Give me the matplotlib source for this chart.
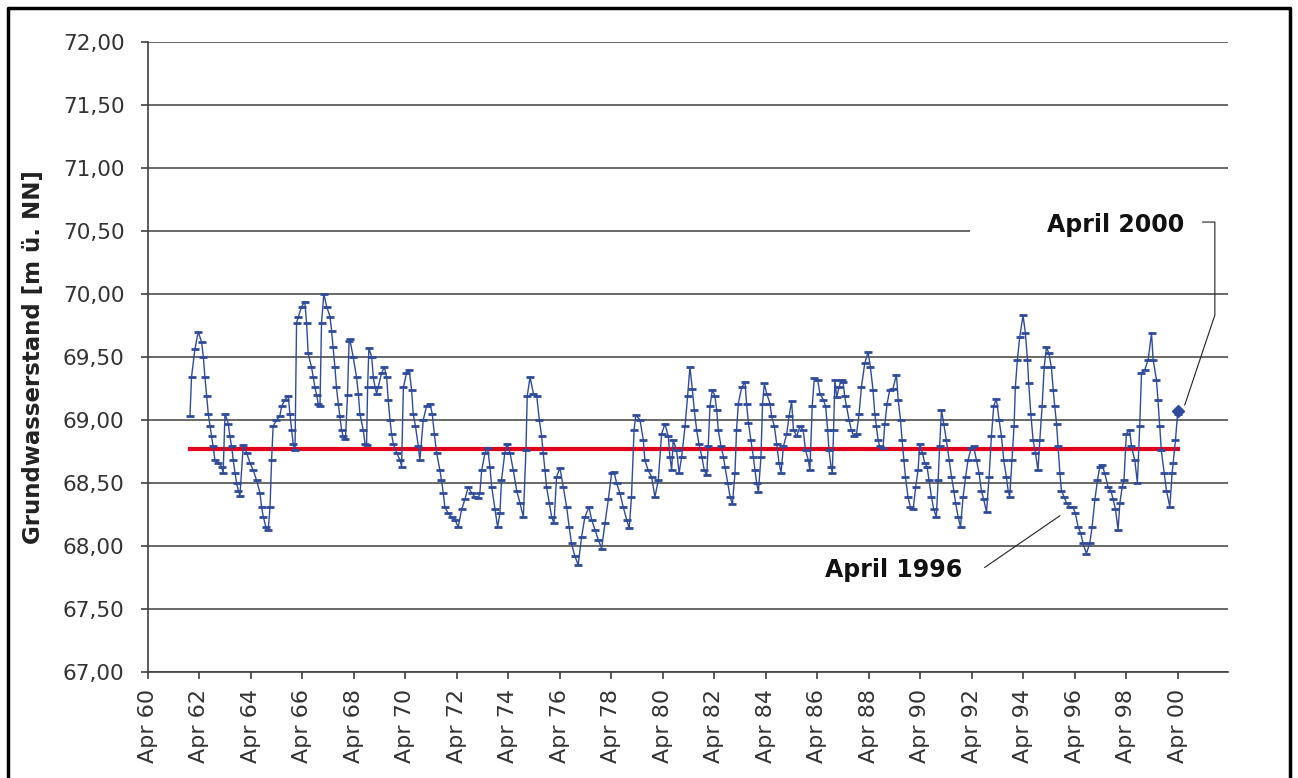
import numpy as np
import matplotlib.pyplot as plt
import matplotlib.lines as mlines
from matplotlib.patches import Rectangle

# groundwater level readings (decimal year, m above NN)
t_61_67 = [1961.88, 1961.94, 1962.07, 1962.20, 1962.33, 1962.40, 1962.46, 1962.53, 1962.59, 1962.66,
           1962.72, 1962.78, 1962.85, 1962.98, 1963.11, 1963.17, 1963.24, 1963.37, 1963.43, 1963.50,
           1963.56, 1963.63, 1963.69, 1963.76, 1963.82, 1963.95, 1964.08, 1964.21, 1964.34, 1964.47,
           1964.60, 1964.66, 1964.73, 1964.83, 1964.92, 1964.99, 1965.05, 1965.11, 1965.24, 1965.37,
           1965.44, 1965.57, 1965.70, 1965.76, 1965.83, 1965.89, 1965.96, 1966.02, 1966.09, 1966.22,
           1966.34, 1966.41, 1966.47, 1966.60, 1966.67, 1966.73, 1966.80, 1966.86, 1966.93, 1966.99,
           1967.08, 1967.19, 1967.32, 1967.38, 1967.44, 1967.51, 1967.57, 1967.64, 1967.70, 1967.77,
           1967.83, 1967.92]
lvl_61_67 = [69.03, 69.34, 69.56, 69.70, 69.62, 69.50, 69.34, 69.19, 69.05, 68.95,
             68.87, 68.79, 68.68, 68.66, 68.63, 68.58, 69.05, 68.97, 68.87, 68.79,
             68.68, 68.58, 68.50, 68.44, 68.40, 68.80, 68.74, 68.66, 68.60, 68.52,
             68.42, 68.31, 68.23, 68.15, 68.13, 68.31, 68.68, 68.95, 69.00, 69.03,
             69.11, 69.16, 69.19, 69.05, 68.92, 68.81, 68.76, 69.77, 69.82, 69.90,
             69.94, 69.77, 69.53, 69.42, 69.34, 69.26, 69.20, 69.13, 69.11, 69.77,
             70.00, 69.90, 69.82, 69.71, 69.58, 69.42, 69.26, 69.13, 69.03, 68.92,
             68.87, 68.85]

t_68_74 = [1968.00, 1968.06, 1968.09, 1968.22, 1968.35, 1968.42, 1968.48, 1968.61, 1968.68, 1968.74,
           1968.78, 1968.83, 1968.94, 1969.00, 1969.07, 1969.13, 1969.19, 1969.32, 1969.43, 1969.52,
           1969.58, 1969.65, 1969.71, 1969.78, 1969.91, 1970.04, 1970.10, 1970.17, 1970.29, 1970.39,
           1970.49, 1970.55, 1970.64, 1970.75, 1970.81, 1970.94, 1971.07, 1971.20, 1971.29, 1971.37,
           1971.46, 1971.59, 1971.65, 1971.72, 1971.78, 1971.91, 1972.04, 1972.17, 1972.30, 1972.43,
           1972.56, 1972.69, 1972.82, 1972.95, 1973.08, 1973.14, 1973.21, 1973.34, 1973.44, 1973.53,
           1973.60, 1973.73, 1973.83, 1973.92, 1973.98, 1974.11, 1974.20, 1974.31]
lvl_68_74 = [69.20, 69.63, 69.64, 69.50, 69.34, 69.21, 69.05, 68.92, 68.81, 68.80,
             69.26, 69.57, 69.50, 69.34, 69.26, 69.21, 69.26, 69.37, 69.42, 69.34,
             69.16, 69.00, 68.89, 68.81, 68.74, 68.68, 68.63, 69.26, 69.37, 69.40,
             69.24, 69.05, 68.95, 68.79, 68.68, 69.00, 69.11, 69.13, 69.05, 68.89,
             68.74, 68.60, 68.52, 68.42, 68.31, 68.26, 68.23, 68.21, 68.15, 68.29,
             68.37, 68.47, 68.42, 68.39, 68.38, 68.42, 68.60, 68.74, 68.78, 68.63,
             68.47, 68.29, 68.15, 68.26, 68.52, 68.74, 68.81, 68.74]

t_74_80 = [1974.44, 1974.57, 1974.70, 1974.83, 1974.93, 1974.98, 1975.09, 1975.22, 1975.35, 1975.45,
           1975.54, 1975.60, 1975.67, 1975.73, 1975.84, 1975.93, 1976.02, 1976.12, 1976.25, 1976.38,
           1976.51, 1976.61, 1976.70, 1976.83, 1976.96, 1977.09, 1977.22, 1977.38, 1977.48, 1977.61,
           1977.74, 1977.87, 1978.00, 1978.13, 1978.26, 1978.35, 1978.45, 1978.58, 1978.71, 1978.84,
           1978.94, 1979.03, 1979.13, 1979.20, 1979.36, 1979.49, 1979.55, 1979.68, 1979.81, 1979.94,
           1980.07, 1980.20, 1980.33, 1980.46, 1980.52, 1980.59, 1980.65, 1980.78, 1980.88]
lvl_74_80 = [68.60, 68.44, 68.34, 68.23, 68.76, 69.19, 69.34, 69.21, 69.19, 69.00,
             68.87, 68.74, 68.60, 68.47, 68.34, 68.23, 68.18, 68.55, 68.62, 68.47,
             68.31, 68.15, 68.02, 67.92, 67.85, 68.07, 68.23, 68.31, 68.21, 68.13,
             68.05, 67.98, 68.18, 68.37, 68.58, 68.59, 68.50, 68.42, 68.31, 68.21,
             68.14, 68.39, 68.92, 69.04, 69.00, 68.84, 68.68, 68.60, 68.55, 68.39,
             68.52, 68.89, 68.97, 68.87, 68.71, 68.60, 68.84, 68.76, 68.58]

t_81_87 = [1980.98, 1981.11, 1981.21, 1981.30, 1981.39, 1981.47, 1981.56, 1981.65, 1981.76, 1981.86,
           1981.95, 1982.01, 1982.08, 1982.17, 1982.27, 1982.34, 1982.40, 1982.51, 1982.60, 1982.66,
           1982.77, 1982.86, 1982.95, 1983.05, 1983.11, 1983.18, 1983.31, 1983.44, 1983.50, 1983.57,
           1983.67, 1983.76, 1983.83, 1983.89, 1983.96, 1984.06, 1984.12, 1984.19, 1984.28, 1984.41,
           1984.47, 1984.58, 1984.67, 1984.76, 1984.84, 1984.93, 1985.06, 1985.15, 1985.25, 1985.32,
           1985.45, 1985.57, 1985.70, 1985.79, 1985.90, 1985.96, 1986.05, 1986.13, 1986.26, 1986.35,
           1986.48, 1986.57, 1986.65, 1986.70, 1986.78, 1986.83, 1986.88, 1986.93, 1987.00, 1987.09,
           1987.19]
lvl_81_87 = [68.71, 68.95, 69.19, 69.42, 69.25, 69.08, 68.92, 68.81, 68.71, 68.60,
             68.56, 68.79, 69.11, 69.24, 69.19, 69.08, 68.92, 68.79, 68.71, 68.63,
             68.50, 68.39, 68.33, 68.58, 68.92, 69.13, 69.26, 69.30, 69.13, 68.98,
             68.84, 68.71, 68.60, 68.50, 68.43, 68.71, 69.13, 69.29, 69.21, 69.13,
             69.03, 68.95, 68.81, 68.66, 68.58, 68.79, 68.89, 69.03, 69.15, 68.92,
             68.87, 68.95, 68.92, 68.76, 68.68, 68.60, 69.11, 69.33, 69.32, 69.21,
             69.16, 69.11, 68.92, 68.76, 68.63, 68.58, 68.92, 69.32, 69.18, 69.26,
             69.32]

t_87_93 = [1987.25, 1987.31, 1987.38, 1987.48, 1987.57, 1987.66, 1987.77, 1987.87, 1987.96, 1988.09,
           1988.22, 1988.31, 1988.41, 1988.48, 1988.54, 1988.61, 1988.67, 1988.80, 1988.87, 1988.96,
           1989.06, 1989.19, 1989.32, 1989.39, 1989.48, 1989.54, 1989.61, 1989.67, 1989.77, 1989.86,
           1989.97, 1990.07, 1990.16, 1990.23, 1990.33, 1990.42, 1990.51, 1990.59, 1990.68, 1990.77,
           1990.87, 1990.94, 1991.00, 1991.07, 1991.16, 1991.26, 1991.37, 1991.46, 1991.55, 1991.62,
           1991.72, 1991.81, 1991.91, 1992.01, 1992.10, 1992.23, 1992.32, 1992.43, 1992.53, 1992.62,
           1992.71, 1992.82, 1992.92, 1993.01, 1993.10, 1993.20, 1993.31, 1993.40, 1993.49]
lvl_87_93 = [69.30, 69.19, 69.11, 69.00, 68.92, 68.87, 68.89, 69.05, 69.26, 69.45,
             69.54, 69.42, 69.24, 69.05, 68.95, 68.84, 68.79, 68.78, 68.97, 69.13,
             69.24, 69.25, 69.36, 69.16, 69.00, 68.84, 68.68, 68.55, 68.39, 68.31,
             68.29, 68.47, 68.60, 68.81, 68.74, 68.66, 68.63, 68.52, 68.39, 68.29,
             68.23, 68.52, 68.79, 69.08, 68.97, 68.84, 68.68, 68.55, 68.44, 68.34,
             68.23, 68.15, 68.39, 68.55, 68.68, 68.78, 68.79, 68.68, 68.58, 68.44,
             68.37, 68.27, 68.55, 68.87, 69.11, 69.17, 69.00, 68.87, 68.68]

t_93_00 = [1993.59, 1993.66, 1993.72, 1993.81, 1993.89, 1993.94, 1994.02, 1994.11, 1994.24, 1994.33,
           1994.41, 1994.46, 1994.54, 1994.63, 1994.72, 1994.82, 1994.89, 1994.98, 1995.06, 1995.15,
           1995.24, 1995.34, 1995.41, 1995.47, 1995.54, 1995.60, 1995.67, 1995.73, 1995.83, 1995.93,
           1996.05, 1996.18, 1996.27, 1996.38, 1996.48, 1996.57, 1996.70, 1996.83, 1996.92, 1997.03,
           1997.13, 1997.22, 1997.31, 1997.41, 1997.54, 1997.65, 1997.74, 1997.83, 1997.93, 1998.00,
           1998.09, 1998.16, 1998.25, 1998.38, 1998.45, 1998.58, 1998.68, 1998.77, 1998.84, 1998.97,
           1999.10, 1999.23, 1999.29, 1999.42, 1999.48, 1999.55, 1999.61, 1999.72, 1999.81, 1999.94,
           2000.03, 2000.07, 2000.16, 2000.24, 2000.26]
lvl_93_00 = [68.55, 68.44, 68.39, 68.68, 68.95, 69.26, 69.48, 69.66, 69.83, 69.69,
             69.48, 69.29, 69.05, 68.84, 68.74, 68.60, 68.84, 69.11, 69.42, 69.58,
             69.53, 69.42, 69.24, 69.11, 68.97, 68.79, 68.58, 68.44, 68.39, 68.34,
             68.31, 68.31, 68.26, 68.15, 68.10, 68.02, 67.94, 68.02, 68.15, 68.37,
             68.52, 68.63, 68.64, 68.58, 68.47, 68.44, 68.37, 68.29, 68.13, 68.34,
             68.47, 68.52, 68.89, 68.92, 68.79, 68.68, 68.50, 68.95, 69.37, 69.40,
             69.48, 69.69, 69.48, 69.32, 69.16, 68.95, 68.76, 68.58, 68.44, 68.31,
             68.58, 68.66, 68.84, 69.05, 69.07]

mean_level = 68.77
tick_years = ['60', '62', '64', '66', '68', '70', '72', '74', '76', '78', '80',
              '82', '84', '86', '88', '90', '92', '94', '96', '98', '00']
y_ticks = [67.0, 67.5, 68.0, 68.5, 69.0, 69.5, 70.0, 70.5, 71.0, 71.5, 72.0]

t = np.concatenate([t_61_67, t_68_74, t_74_80, t_81_87, t_87_93, t_93_00])
lvl = np.concatenate([lvl_61_67, lvl_68_74, lvl_74_80, lvl_81_87, lvl_87_93, lvl_93_00])

W, H = 1298, 778
blue = '#2F4B9B'
txt = '#333333'

fig = plt.figure(figsize=(W / 100, H / 100), dpi=100)
ax = fig.add_axes([148 / W, 1 - 672 / H, 1080 / W, 630 / H])

ax.set_xlim(1960.25, 2002.2)
ax.set_ylim(67, 72)
ax.set_axisbelow(True)
ax.yaxis.grid(True, color='#404040', lw=1.1)
for s in ['top', 'right']:
    ax.spines[s].set_visible(False)
for s in ['left', 'bottom']:
    ax.spines[s].set_color('#404040')
    ax.spines[s].set_linewidth(1.2)

xt = [1960.25 + 2 * i for i in range(len(tick_years))]
ax.set_xticks(xt)
ax.set_xticklabels(['Apr ' + y for y in tick_years], rotation=90, fontsize=16, color=txt)
ax.set_yticks(y_ticks)
ax.set_yticklabels([f'{v:.2f}'.replace('.', ',') for v in y_ticks], fontsize=15.5, color=txt)
ax.tick_params(axis='x', length=5, width=1.2, color='#404040', pad=7)
ax.tick_params(axis='y', length=5, width=1.2, color='#404040', pad=12)

ax.set_ylabel('Grundwasserstand [m ü. NN]', fontsize=16.5, fontweight='bold', color='#222222')
ax.yaxis.set_label_coords(-0.095, 0.5)

# white box behind the "April 2000" label hides part of the 70,50 gridline
ax.add_patch(Rectangle((1992.17, 70.42), 2002.2 - 1992.17, 0.2,
                       facecolor='white', edgecolor='none', zorder=1.5))

ax.plot(t, lvl, color=blue, lw=1, marker='_', ms=6, mew=2, zorder=3)
ax.plot(t[-1], lvl[-1], marker='D', ms=6, color=blue, zorder=4)
ax.plot([t[0], t[-1]], [mean_level, mean_level], color='#E3001B', lw=3, zorder=2.5)

ax.text(2000.52, 70.55, 'April 2000', ha='right', va='center', fontsize=17,
        fontweight='bold', color='#111111', zorder=5)
ax.plot([2001.22, 2001.69, 2001.69, 2000.52], [70.571, 70.571, 69.833, 69.119],
        color='#222222', lw=0.8, clip_on=False, zorder=5)
ax.text(1991.86, 67.81, 'April 1996', ha='right', va='center', fontsize=17,
        fontweight='bold', color='#111111', zorder=5)
ax.plot([1992.75, 1995.67], [67.83, 68.24], color='#222222', lw=0.8, zorder=5)

# outer frame (bottom edge cut off in the original)
fig.add_artist(mlines.Line2D([8 / W, 8 / W, 1290 / W, 1290 / W], [-0.1, 1 - 8 / H, 1 - 8 / H, -0.1],
                             transform=fig.transFigure, color='black', lw=2.5))

fig.savefig('out.png', dpi=100)
